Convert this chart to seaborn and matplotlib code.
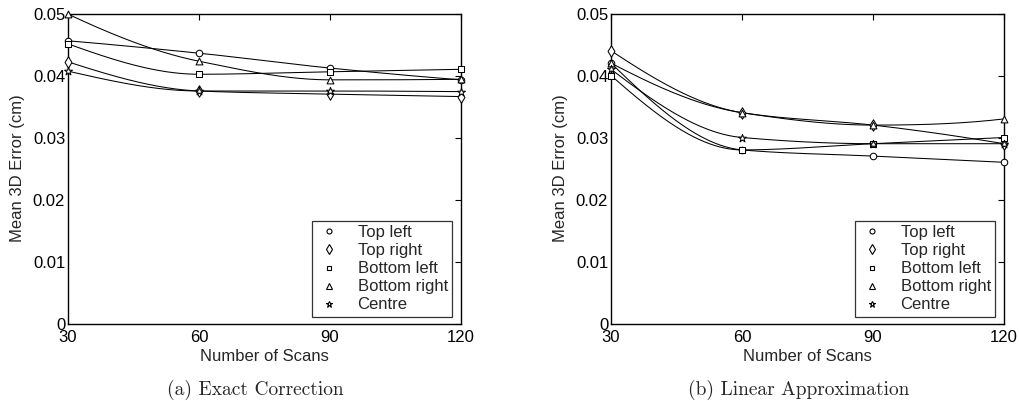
import numpy as np
import pandas as pd
import seaborn as sns
import matplotlib
matplotlib.use("Agg")
import matplotlib.pyplot as plt
from matplotlib.lines import Line2D

# ---------------- data ----------------
scans = [30, 60, 90, 120]
series_names = ["Top left", "Top right", "Bottom left", "Bottom right", "Centre"]
series_markers = ["o", "d", "s", "^", "*"]

exact_top_left = [0.0456, 0.0436, 0.0412, 0.0393]
exact_top_right = [0.0422, 0.0375, 0.0370, 0.0366]
exact_bottom_left = [0.0451, 0.0402, 0.0406, 0.0410]
exact_bottom_right = [0.0499, 0.0423, 0.0393, 0.0394]
exact_centre = [0.0407, 0.0375, 0.0375, 0.0374]

linear_top_left = [0.0420, 0.0280, 0.0270, 0.0260]
linear_top_right = [0.0440, 0.0340, 0.0320, 0.0290]
linear_bottom_left = [0.0400, 0.0280, 0.0290, 0.0300]
linear_bottom_right = [0.0420, 0.0340, 0.0320, 0.0330]
linear_centre = [0.0410, 0.0300, 0.0290, 0.0290]

y_ticks = [0, 0.01, 0.02, 0.03, 0.04, 0.05]
y_tick_labels = ["0", "0.01", "0.02", "0.03", "0.04", "0.05"]
captions = ["(a) Exact Correction", "(b) Linear Approximation"]

panels = [
    [exact_top_left, exact_top_right, exact_bottom_left, exact_bottom_right, exact_centre],
    [linear_top_left, linear_top_right, linear_bottom_left, linear_bottom_right, linear_centre],
]


def pchip(x, y, xs):
    """Shape-preserving piecewise cubic curve through the given points (for line drawing)."""
    x = np.asarray(x, float)
    y = np.asarray(y, float)
    h = np.diff(x)
    delta = np.diff(y) / h
    n = len(x)
    d = np.zeros(n)
    for k in range(1, n - 1):
        if delta[k - 1] * delta[k] > 0:
            w1 = 2 * h[k] + h[k - 1]
            w2 = h[k] + 2 * h[k - 1]
            d[k] = (w1 + w2) / (w1 / delta[k - 1] + w2 / delta[k])
    def end_slope(h0, h1, d0, d1):
        s = ((2 * h0 + h1) * d0 - h0 * d1) / (h0 + h1)
        if np.sign(s) != np.sign(d0):
            s = 0.0
        elif np.sign(d0) != np.sign(d1) and abs(s) > abs(3 * d0):
            s = 3 * d0
        return s
    d[0] = end_slope(h[0], h[1], delta[0], delta[1])
    d[-1] = end_slope(h[-1], h[-2], delta[-1], delta[-2])
    xs = np.asarray(xs, float)
    idx = np.clip(np.searchsorted(x, xs) - 1, 0, n - 2)
    t = (xs - x[idx]) / h[idx]
    h00 = 2 * t**3 - 3 * t**2 + 1
    h10 = t**3 - 2 * t**2 + t
    h01 = -2 * t**3 + 3 * t**2
    h11 = t**3 - t**2
    return h00 * y[idx] + h10 * h[idx] * d[idx] + h01 * y[idx + 1] + h11 * h[idx] * d[idx + 1]


sns.set_style("white")
plt.rcParams["font.family"] = ["Liberation Sans", "DejaVu Sans"]
plt.rcParams["axes.linewidth"] = 1.0

fig = plt.figure(figsize=(10.19, 4.01), dpi=100)
ax_lefts = [68 / 1019, 611 / 1019]
ax_w = 393 / 1019
ax_b = 1 - 323.5 / 401
ax_h = 310 / 401

marker_sizes = {"o": 22, "d": 34, "s": 20, "^": 24, "*": 36}
legend_sizes = {"o": 3.6, "d": 4.6, "s": 3.4, "^": 3.8, "*": 4.8}

for pi, values in enumerate(panels):
    ax = fig.add_axes([ax_lefts[pi], ax_b, ax_w, ax_h])
    rows = []
    for name, vals in zip(series_names, values):
        for s, v in zip(scans, vals):
            rows.append({"scans": s, "error": v, "series": name})
    df = pd.DataFrame(rows)

    xs = np.linspace(scans[0], scans[-1], 300)
    for name, vals in zip(series_names, values):
        ax.plot(xs, pchip(scans, vals, xs), color="black", lw=0.75, zorder=2)

    for name, m in zip(series_names, series_markers):
        sns.scatterplot(
            data=df[df["series"] == name], x="scans", y="error",
            marker=m, s=marker_sizes[m], facecolor="white",
            edgecolor="black", linewidth=0.75, ax=ax, legend=False, zorder=3,
            clip_on=False,
        )

    ax.set_xlim(30, 120)
    ax.set_ylim(0, 0.05)
    ax.set_xticks(scans)
    ax.set_xticklabels([str(s) for s in scans])
    ax.set_yticks(y_ticks)
    ax.set_yticklabels(y_tick_labels)
    ax.tick_params(direction="in", length=4, width=0.8, top=True, right=True,
                   labelsize=12, colors="black", pad=2)
    ax.tick_params(axis="x", pad=5)
    for sp in ax.spines.values():
        sp.set_visible(True)
        sp.set_color("black")
        sp.set_linewidth(1.0)
    ax.set_xlabel("Number of Scans", fontsize=12, labelpad=2.5)
    ax.set_ylabel("Mean 3D Error (cm)", fontsize=12, labelpad=6)

    handles = [
        Line2D([], [], linestyle="none", marker=m, markersize=legend_sizes[m],
               markerfacecolor="white", markeredgecolor="black", markeredgewidth=0.8)
        for m in series_markers
    ]
    leg = ax.legend(handles, series_names, loc="lower right", fontsize=12,
                    frameon=True, fancybox=False, edgecolor="black",
                    bbox_to_anchor=(1 - 9 / 393, 7 / 310), borderaxespad=0.0,
                    handlelength=1.6, handletextpad=0.9,
                    labelspacing=0.18, borderpad=0.25)
    leg.get_frame().set_linewidth(0.9)
    leg.set_zorder(5)

    cx = (ax_lefts[pi] + ax_w / 2) - 9 / 1019
    fig.text(cx, 1 - 390 / 401, captions[pi], ha="center", va="center",
             fontsize=14, family="cmr10")

fig.savefig("out.png", dpi=100)
